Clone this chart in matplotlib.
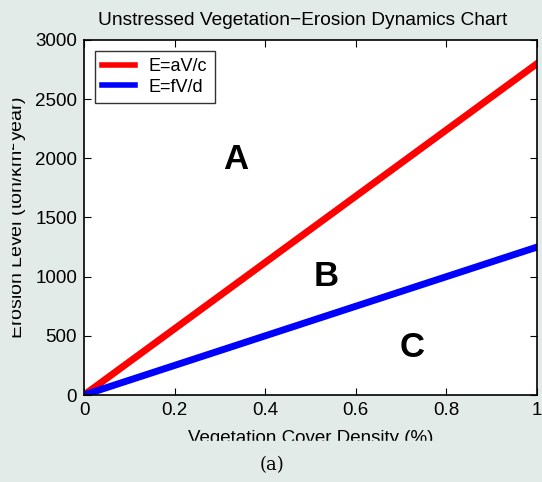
import matplotlib
matplotlib.use('Agg')
from matplotlib import pyplot as plt
from matplotlib.patches import Rectangle
import numpy as np

# data
density = [0.0, 1.0]
erosion_avc = [0.0, 2800.0]
erosion_fvd = [0.0, 1250.0]
labels = ['E=aV/c', 'E=fV/d']
regions = ['A', 'B', 'C']
region_x = [0.335, 0.535, 0.725]
region_y = [1990, 1000, 400]

bg = '#e3ebe8'
plt.rcParams['font.family'] = ['Liberation Sans', 'DejaVu Sans']

fig = plt.figure(figsize=(5.42, 4.82), dpi=100, facecolor=bg)
ax = fig.add_axes([84/542, 87/482, 453/542, 355/482])

ax.plot(density, erosion_avc, color='#ff0000', lw=5, label=labels[0])
ax.plot(density, erosion_fvd, color='#0000ff', lw=5, label=labels[1])

for t, x, y in zip(regions, region_x, region_y):
    ax.text(x, y, t, fontsize=25, fontweight='bold', ha='center', va='center')

ax.set_xlim(0, 1)
ax.set_ylim(0, 3000)
ax.set_xticks(np.arange(0, 1.01, 0.2))
ax.set_xticklabels(['0', '0.2', '0.4', '0.6', '0.8', '1'])
ax.set_yticks(np.arange(0, 3001, 500))
ax.tick_params(direction='in', top=True, right=True, labelsize=13.5, length=5, width=0.8, pad=5)
for s in ax.spines.values():
    s.set_linewidth(1.2)

ax.set_title('Unstressed Vegetation\u2212Erosion Dynamics Chart', fontsize=13.8, pad=11, x=0.482)
ax.set_xlabel('Vegetation Cover Density (%)', fontsize=13.5, labelpad=8)
ax.set_ylabel('Erosion Level (ton/km$^2$year)', fontsize=14, labelpad=4)

leg = ax.legend(loc='upper left', fontsize=13, frameon=True, fancybox=False,
                edgecolor='black', handlelength=1.8, handletextpad=0.8,
                borderpad=0.4, labelspacing=0.2, borderaxespad=0.6)
leg.get_frame().set_linewidth(1.0)
for h in leg.get_lines():
    h.set_linewidth(4)

# crop edges like the source image
fig.patches.append(Rectangle((0, 0), 1, 41/482, transform=fig.transFigure, color=bg, zorder=10))
fig.patches.append(Rectangle((0, 0), 11/542, 1, transform=fig.transFigure, color=bg, zorder=10))

fig.text(272/542, 1 - 465/482, '(a)', fontsize=13, family='DejaVu Serif', ha='center', va='center', zorder=11)

fig.savefig('out.png', dpi=100, facecolor=bg)
